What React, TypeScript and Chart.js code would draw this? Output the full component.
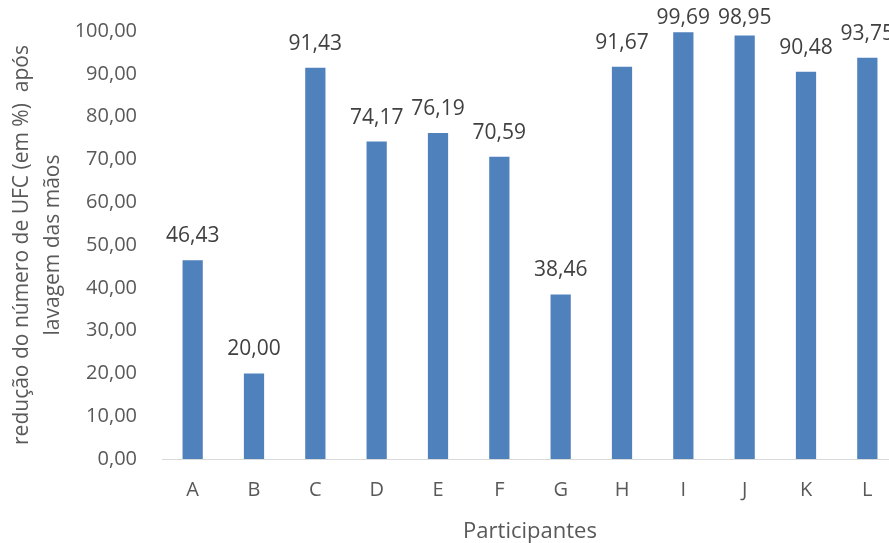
import React, { useEffect, useRef } from "react";
import { Chart, registerables } from "chart.js";

Chart.register(...registerables);

const categories = ["A", "B", "C", "D", "E", "F", "G", "H", "I", "J", "K", "L"];
const values = [46.43, 20.0, 91.43, 74.17, 76.19, 70.59, 38.46, 91.67, 99.69, 98.95, 90.48, 93.75];
const yTitle = ["redução do número de UFC (em %)  após", "lavagem das mãos"];
const xTitle = "Participantes";

const FONT = "'Open Sans', 'Noto Sans', sans-serif";
const fmt = (v: number) => v.toFixed(2).replace(".", ",");

const labelPlugin = {
  id: "barLabels",
  afterDatasetsDraw(chart: any) {
    const ctx = chart.ctx;
    const meta = chart.getDatasetMeta(0);
    ctx.save();
    ctx.font = `21px ${FONT}`;
    ctx.fillStyle = "#404040";
    ctx.textAlign = "center";
    ctx.textBaseline = "middle";
    meta.data.forEach((el: any, i: number) => {
      const y = Math.max(el.y - 24, 24);
      ctx.fillText(fmt(values[i]), el.x, y);
    });
    ctx.restore();
  },
};

export default function App() {
  const ref = useRef<HTMLCanvasElement>(null);
  useEffect(() => {
    if (!ref.current) return;
    const chart = new Chart(ref.current, {
      type: "bar",
      data: {
        labels: categories,
        datasets: [
          {
            data: values,
            backgroundColor: "#4F81BD",
            borderWidth: 0,
            barPercentage: 0.33,
            categoryPercentage: 1,
          },
        ],
      },
      options: {
        animation: false,
        responsive: true,
        maintainAspectRatio: false,
        layout: { padding: { top: 25, right: 0, left: 0, bottom: 0 } },
        plugins: { legend: { display: false }, tooltip: { enabled: false } },
        scales: {
          x: {
            grid: { display: false, drawTicks: false },
            border: { display: true, color: "#D9D9D9", width: 1 },
            ticks: { color: "#595959", font: { family: FONT, size: 20 }, padding: 19 },
            title: {
              display: true,
              text: xTitle,
              color: "#595959",
              font: { family: FONT, size: 22, lineHeight: 1 },
              padding: { top: 0, bottom: 0 },
            },
            afterFit(scale: any) {
              scale.height = 84;
            },
          },
          y: {
            min: 0,
            max: 100,
            ticks: {
              stepSize: 10,
              color: "#595959",
              font: { family: FONT, size: 20 },
              padding: 25,
              callback: (v: any) => fmt(Number(v)),
            },
            grid: { display: false, drawTicks: false },
            border: { display: false },
            title: {
              display: true,
              text: yTitle,
              color: "#595959",
              font: { family: FONT, size: 21, lineHeight: 1.45 },
              padding: { top: 7, bottom: 0 },
            },
            afterFit(scale: any) {
              scale.width = 162;
            },
          },
        },
      },
      plugins: [labelPlugin],
    });
    return () => chart.destroy();
  }, []);
  return (
    <div style={{ position: "fixed", left: 0, top: 0, width: 889, height: 543, overflow: "hidden", background: "#fff" }}>
      <div style={{ position: "absolute", left: 0, top: -6, width: 898, height: 549 }}>
        <canvas ref={ref} />
      </div>
    </div>
  );
}
